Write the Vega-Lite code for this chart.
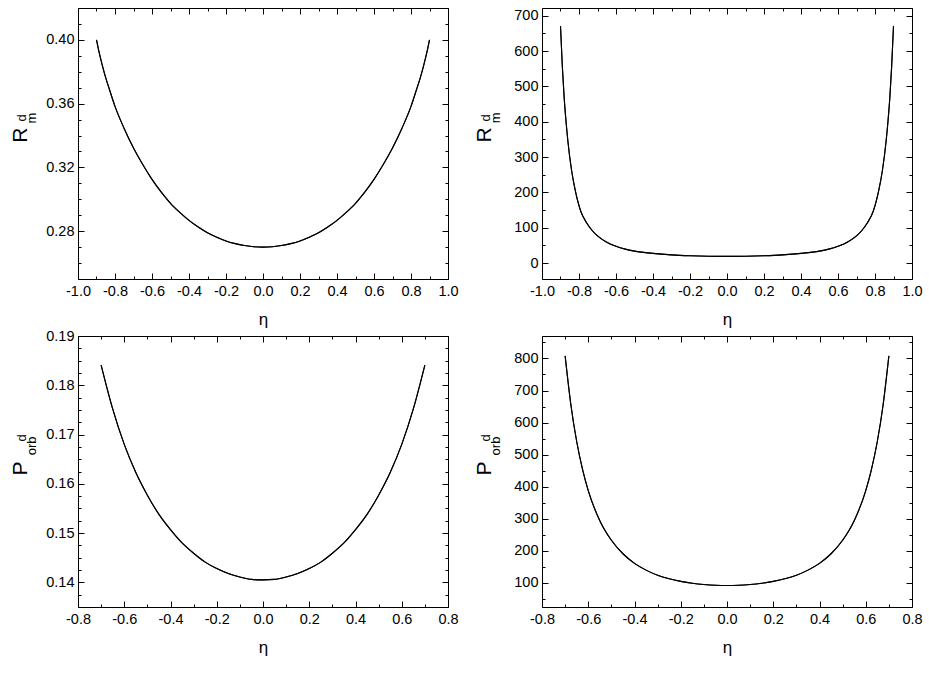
{
  "$schema": "https://vega.github.io/schema/vega-lite/v6.json",
  "padding": {"left": 9, "top": 0, "right": 5, "bottom": 5},
  "background": "white",
  "config": {
    "view": {"stroke": null},
    "font": "Liberation Sans",
    "axis": {
      "labelFont": "Liberation Sans",
      "labelFontSize": 14.5,
      "labelColor": "black",
      "labelFlush": false,
      "labelOverlap": false,
      "domainColor": "black",
      "domainWidth": 1,
      "tickColor": "black",
      "tickWidth": 1,
      "grid": false,
      "titleFont": "Liberation Sans",
      "titleFontSize": 17,
      "titleFontWeight": "normal",
      "titleColor": "black"
    }
  },
  "datasets": {
    "p1": [
      {"eta": -0.9, "v": 0.4000}, {"eta": -0.89, "v": 0.3944}, {"eta": -0.87, "v": 0.3847}, {"eta": -0.85, "v": 0.3762},
      {"eta": -0.83, "v": 0.3689}, {"eta": -0.8, "v": 0.3583}, {"eta": -0.75, "v": 0.3443}, {"eta": -0.7, "v": 0.3322},
      {"eta": -0.65, "v": 0.3218}, {"eta": -0.6, "v": 0.3125}, {"eta": -0.55, "v": 0.3045}, {"eta": -0.5, "v": 0.2975},
      {"eta": -0.45, "v": 0.2918}, {"eta": -0.4, "v": 0.2868}, {"eta": -0.35, "v": 0.2826}, {"eta": -0.3, "v": 0.2790},
      {"eta": -0.25, "v": 0.2762}, {"eta": -0.2, "v": 0.2739}, {"eta": -0.15, "v": 0.2722}, {"eta": -0.1, "v": 0.2710},
      {"eta": -0.05, "v": 0.2702}, {"eta": 0.0, "v": 0.2700},
      {"eta": 0.05, "v": 0.2702}, {"eta": 0.1, "v": 0.2710}, {"eta": 0.15, "v": 0.2722}, {"eta": 0.2, "v": 0.2739},
      {"eta": 0.25, "v": 0.2762}, {"eta": 0.3, "v": 0.2790}, {"eta": 0.35, "v": 0.2826}, {"eta": 0.4, "v": 0.2868},
      {"eta": 0.45, "v": 0.2918}, {"eta": 0.5, "v": 0.2975}, {"eta": 0.55, "v": 0.3045}, {"eta": 0.6, "v": 0.3125},
      {"eta": 0.65, "v": 0.3218}, {"eta": 0.7, "v": 0.3322}, {"eta": 0.75, "v": 0.3443}, {"eta": 0.8, "v": 0.3583},
      {"eta": 0.83, "v": 0.3689}, {"eta": 0.85, "v": 0.3762}, {"eta": 0.87, "v": 0.3847}, {"eta": 0.89, "v": 0.3944},
      {"eta": 0.9, "v": 0.4000}
    ],
    "p2": [
      {"eta": -0.9, "v": 671}, {"eta": -0.89, "v": 556}, {"eta": -0.88, "v": 467}, {"eta": -0.87, "v": 400},
      {"eta": -0.86, "v": 345}, {"eta": -0.84, "v": 262}, {"eta": -0.82, "v": 205}, {"eta": -0.79, "v": 146},
      {"eta": -0.76, "v": 115}, {"eta": -0.73, "v": 93}, {"eta": -0.7, "v": 77}, {"eta": -0.65, "v": 59},
      {"eta": -0.6, "v": 47.5}, {"eta": -0.55, "v": 39.5}, {"eta": -0.5, "v": 34}, {"eta": -0.4, "v": 27.5},
      {"eta": -0.3, "v": 23.3}, {"eta": -0.2, "v": 20.8}, {"eta": -0.1, "v": 19.4}, {"eta": 0.0, "v": 19},
      {"eta": 0.1, "v": 19.4}, {"eta": 0.2, "v": 20.8}, {"eta": 0.3, "v": 23.3}, {"eta": 0.4, "v": 27.5},
      {"eta": 0.5, "v": 34}, {"eta": 0.55, "v": 39.5}, {"eta": 0.6, "v": 47.5}, {"eta": 0.65, "v": 59},
      {"eta": 0.7, "v": 77}, {"eta": 0.73, "v": 93}, {"eta": 0.76, "v": 115}, {"eta": 0.79, "v": 146},
      {"eta": 0.82, "v": 205}, {"eta": 0.84, "v": 262}, {"eta": 0.86, "v": 345}, {"eta": 0.87, "v": 400},
      {"eta": 0.88, "v": 467}, {"eta": 0.89, "v": 556}, {"eta": 0.9, "v": 671}
    ],
    "p3": [
      {"eta": -0.7, "v": 0.1841}, {"eta": -0.65, "v": 0.1752}, {"eta": -0.6, "v": 0.1680}, {"eta": -0.55, "v": 0.1623},
      {"eta": -0.5, "v": 0.1577}, {"eta": -0.45, "v": 0.1538}, {"eta": -0.4, "v": 0.1507}, {"eta": -0.35, "v": 0.1480},
      {"eta": -0.3, "v": 0.1459}, {"eta": -0.25, "v": 0.1441}, {"eta": -0.2, "v": 0.1428}, {"eta": -0.15, "v": 0.1418},
      {"eta": -0.1, "v": 0.1411}, {"eta": -0.05, "v": 0.1406}, {"eta": 0.0, "v": 0.1405},
      {"eta": 0.05, "v": 0.1406}, {"eta": 0.1, "v": 0.1411}, {"eta": 0.15, "v": 0.1418}, {"eta": 0.2, "v": 0.1428},
      {"eta": 0.25, "v": 0.1441}, {"eta": 0.3, "v": 0.1459}, {"eta": 0.35, "v": 0.1480}, {"eta": 0.4, "v": 0.1507},
      {"eta": 0.45, "v": 0.1538}, {"eta": 0.5, "v": 0.1577}, {"eta": 0.55, "v": 0.1623}, {"eta": 0.6, "v": 0.1680},
      {"eta": 0.65, "v": 0.1752}, {"eta": 0.7, "v": 0.1841}
    ],
    "p4": [
      {"eta": -0.7, "v": 808}, {"eta": -0.675, "v": 655}, {"eta": -0.65, "v": 541}, {"eta": -0.625, "v": 455},
      {"eta": -0.6, "v": 388}, {"eta": -0.55, "v": 294}, {"eta": -0.5, "v": 233}, {"eta": -0.45, "v": 191},
      {"eta": -0.4, "v": 161}, {"eta": -0.35, "v": 140}, {"eta": -0.3, "v": 124}, {"eta": -0.25, "v": 113},
      {"eta": -0.2, "v": 105}, {"eta": -0.15, "v": 99}, {"eta": -0.1, "v": 95}, {"eta": -0.05, "v": 92.7},
      {"eta": 0.0, "v": 92},
      {"eta": 0.05, "v": 92.7}, {"eta": 0.1, "v": 95}, {"eta": 0.15, "v": 99}, {"eta": 0.2, "v": 105},
      {"eta": 0.25, "v": 113}, {"eta": 0.3, "v": 124}, {"eta": 0.35, "v": 140}, {"eta": 0.4, "v": 161},
      {"eta": 0.45, "v": 191}, {"eta": 0.5, "v": 233}, {"eta": 0.55, "v": 294}, {"eta": 0.6, "v": 388},
      {"eta": 0.625, "v": 455}, {"eta": 0.65, "v": 541}, {"eta": 0.675, "v": 655}, {"eta": 0.7, "v": 808}
    ]
  },
  "columns": 2,
  "bounds": "flush",
  "spacing": {"row": 57, "column": 94},
  "concat": [
    {
      "width": 370, "height": 271,
      "layer": [
        {
          "data": {"name": "p1"},
          "mark": {"type": "line", "color": "black", "strokeWidth": 1.1, "interpolate": "monotone"},
          "encoding": {
            "x": {"field": "eta", "type": "quantitative", "scale": {"domain": [-1, 1], "nice": false, "zero": false},
              "axis": {"orient": "bottom", "title": "η", "titlePadding": 11, "values": [-1,-0.9,-0.8,-0.7,-0.6,-0.5,-0.4,-0.3,-0.2,-0.1,0,0.1,0.2,0.3,0.4,0.5,0.6,0.7,0.8,0.9,1],
                "tickSize": {"expr": "abs(datum.value*5-round(datum.value*5))<0.01 ? -6 : -3"}, "labelPadding": 11,
                "labelExpr": "abs(datum.value*5-round(datum.value*5))<0.01 ? replace(format(datum.value,'.1f'),'−','-') : ''"}},
            "y": {"field": "v", "type": "quantitative", "scale": {"domain": [0.25, 0.42], "nice": false, "zero": false},
              "axis": {"orient": "left", "title": null, "values": [0.25,0.26,0.27,0.28,0.29,0.30,0.31,0.32,0.33,0.34,0.35,0.36,0.37,0.38,0.39,0.40,0.41,0.42],
                "tickSize": {"expr": "abs(datum.value*25-round(datum.value*25))<0.01 ? -6 : -3"}, "labelPadding": 10,
                "labelExpr": "abs(datum.value*25-round(datum.value*25))<0.01 ? format(datum.value,'.2f') : ''"}}
          }
        },
        {
          "data": {"name": "p1"},
          "mark": {"type": "line", "color": "black", "strokeWidth": 1.1, "interpolate": "monotone"},
          "encoding": {
            "x": {"field": "eta", "type": "quantitative", "scale": {"domain": [-1, 1], "nice": false, "zero": false},
              "axis": {"orient": "top", "title": null, "labels": false, "values": [-1,-0.9,-0.8,-0.7,-0.6,-0.5,-0.4,-0.3,-0.2,-0.1,0,0.1,0.2,0.3,0.4,0.5,0.6,0.7,0.8,0.9,1],
                "tickSize": {"expr": "abs(datum.value*5-round(datum.value*5))<0.01 ? -6 : -3"}}},
            "y": {"field": "v", "type": "quantitative", "scale": {"domain": [0.25, 0.42], "nice": false, "zero": false},
              "axis": {"orient": "right", "title": null, "labels": false, "values": [0.25,0.26,0.27,0.28,0.29,0.30,0.31,0.32,0.33,0.34,0.35,0.36,0.37,0.38,0.39,0.40,0.41,0.42],
                "tickSize": {"expr": "abs(datum.value*25-round(datum.value*25))<0.01 ? -6 : -3"}}}
          }
        },
        {
          "data": {"values": [{}]},
          "mark": {"type": "text", "text": "R", "font": "Liberation Sans", "fontSize": 21, "angle": 270, "align": "center", "baseline": "middle", "color": "black"},
          "encoding": {
            "x": {"datum": -1.308, "type": "quantitative", "scale": {"domain": [-1, 1], "nice": false, "zero": false}, "axis": null},
            "y": {"datum": 0.3403, "type": "quantitative", "scale": {"domain": [0.25, 0.42], "nice": false, "zero": false}, "axis": null}
          }
        },
        {
          "data": {"values": [{}]},
          "mark": {"type": "text", "text": "m", "font": "Liberation Sans", "fontSize": 13, "angle": 270, "align": "center", "baseline": "middle", "color": "black"},
          "encoding": {
            "x": {"datum": -1.249, "type": "quantitative", "scale": {"domain": [-1, 1], "nice": false, "zero": false}, "axis": null},
            "y": {"datum": 0.351, "type": "quantitative", "scale": {"domain": [0.25, 0.42], "nice": false, "zero": false}, "axis": null}
          }
        },
        {
          "data": {"values": [{}]},
          "mark": {"type": "text", "text": "d", "font": "Liberation Sans", "fontSize": 13, "angle": 270, "align": "center", "baseline": "middle", "color": "black"},
          "encoding": {
            "x": {"datum": -1.303, "type": "quantitative", "scale": {"domain": [-1, 1], "nice": false, "zero": false}, "axis": null},
            "y": {"datum": 0.351, "type": "quantitative", "scale": {"domain": [0.25, 0.42], "nice": false, "zero": false}, "axis": null}
          }
        }
      ],
      "resolve": {"axis": {"x": "independent", "y": "independent"}}
    },
    {
      "width": 370, "height": 271,
      "layer": [
        {
          "data": {"name": "p2"},
          "mark": {"type": "line", "color": "black", "strokeWidth": 1.1, "interpolate": "monotone"},
          "encoding": {
            "x": {"field": "eta", "type": "quantitative", "scale": {"domain": [-1, 1], "nice": false, "zero": false},
              "axis": {"orient": "bottom", "title": "η", "titlePadding": 11, "values": [-1,-0.9,-0.8,-0.7,-0.6,-0.5,-0.4,-0.3,-0.2,-0.1,0,0.1,0.2,0.3,0.4,0.5,0.6,0.7,0.8,0.9,1],
                "tickSize": {"expr": "abs(datum.value*5-round(datum.value*5))<0.01 ? -6 : -3"}, "labelPadding": 11,
                "labelExpr": "abs(datum.value*5-round(datum.value*5))<0.01 ? replace(format(datum.value,'.1f'),'−','-') : ''"}},
            "y": {"field": "v", "type": "quantitative", "scale": {"domain": [-45, 722], "nice": false, "zero": false},
              "axis": {"orient": "left", "title": null, "values": [0,50,100,150,200,250,300,350,400,450,500,550,600,650,700],
                "tickSize": {"expr": "datum.value % 100 == 0 ? -6 : -3"}, "labelPadding": 10,
                "labelExpr": "datum.value % 100 == 0 ? format(datum.value,'d') : ''"}}
          }
        },
        {
          "data": {"name": "p2"},
          "mark": {"type": "line", "color": "black", "strokeWidth": 1.1, "interpolate": "monotone"},
          "encoding": {
            "x": {"field": "eta", "type": "quantitative", "scale": {"domain": [-1, 1], "nice": false, "zero": false},
              "axis": {"orient": "top", "title": null, "labels": false, "values": [-1,-0.9,-0.8,-0.7,-0.6,-0.5,-0.4,-0.3,-0.2,-0.1,0,0.1,0.2,0.3,0.4,0.5,0.6,0.7,0.8,0.9,1],
                "tickSize": {"expr": "abs(datum.value*5-round(datum.value*5))<0.01 ? -6 : -3"}}},
            "y": {"field": "v", "type": "quantitative", "scale": {"domain": [-45, 722], "nice": false, "zero": false},
              "axis": {"orient": "right", "title": null, "labels": false, "values": [0,50,100,150,200,250,300,350,400,450,500,550,600,650,700],
                "tickSize": {"expr": "datum.value % 100 == 0 ? -6 : -3"}}}
          }
        },
        {
          "data": {"values": [{}]},
          "mark": {"type": "text", "text": "R", "font": "Liberation Sans", "fontSize": 21, "angle": 270, "align": "center", "baseline": "middle", "color": "black"},
          "encoding": {
            "x": {"datum": -1.308, "type": "quantitative", "scale": {"domain": [-1, 1], "nice": false, "zero": false}, "axis": null},
            "y": {"datum": 362.5, "type": "quantitative", "scale": {"domain": [-45, 722], "nice": false, "zero": false}, "axis": null}
          }
        },
        {
          "data": {"values": [{}]},
          "mark": {"type": "text", "text": "m", "font": "Liberation Sans", "fontSize": 13, "angle": 270, "align": "center", "baseline": "middle", "color": "black"},
          "encoding": {
            "x": {"datum": -1.249, "type": "quantitative", "scale": {"domain": [-1, 1], "nice": false, "zero": false}, "axis": null},
            "y": {"datum": 411, "type": "quantitative", "scale": {"domain": [-45, 722], "nice": false, "zero": false}, "axis": null}
          }
        },
        {
          "data": {"values": [{}]},
          "mark": {"type": "text", "text": "d", "font": "Liberation Sans", "fontSize": 13, "angle": 270, "align": "center", "baseline": "middle", "color": "black"},
          "encoding": {
            "x": {"datum": -1.303, "type": "quantitative", "scale": {"domain": [-1, 1], "nice": false, "zero": false}, "axis": null},
            "y": {"datum": 411, "type": "quantitative", "scale": {"domain": [-45, 722], "nice": false, "zero": false}, "axis": null}
          }
        }
      ],
      "resolve": {"axis": {"x": "independent", "y": "independent"}}
    },
    {
      "width": 370, "height": 271,
      "layer": [
        {
          "data": {"name": "p3"},
          "mark": {"type": "line", "color": "black", "strokeWidth": 1.1, "interpolate": "monotone"},
          "encoding": {
            "x": {"field": "eta", "type": "quantitative", "scale": {"domain": [-0.8, 0.8], "nice": false, "zero": false},
              "axis": {"orient": "bottom", "title": "η", "titlePadding": 11, "values": [-0.8,-0.7,-0.6,-0.5,-0.4,-0.3,-0.2,-0.1,0,0.1,0.2,0.3,0.4,0.5,0.6,0.7,0.8],
                "tickSize": {"expr": "abs(datum.value*5-round(datum.value*5))<0.01 ? -6 : -3"}, "labelPadding": 11,
                "labelExpr": "abs(datum.value*5-round(datum.value*5))<0.01 ? replace(format(datum.value,'.1f'),'−','-') : ''"}},
            "y": {"field": "v", "type": "quantitative", "scale": {"domain": [0.135, 0.19], "nice": false, "zero": false},
              "axis": {"orient": "left", "title": null, "values": [0.135,0.1375,0.14,0.1425,0.145,0.1475,0.15,0.1525,0.155,0.1575,0.16,0.1625,0.165,0.1675,0.17,0.1725,0.175,0.1775,0.18,0.1825,0.185,0.1875,0.19],
                "tickSize": {"expr": "abs(datum.value*100-round(datum.value*100))<0.01 ? -6 : -3"}, "labelPadding": 10,
                "labelExpr": "abs(datum.value*100-round(datum.value*100))<0.01 ? format(datum.value,'.2f') : ''"}}
          }
        },
        {
          "data": {"name": "p3"},
          "mark": {"type": "line", "color": "black", "strokeWidth": 1.1, "interpolate": "monotone"},
          "encoding": {
            "x": {"field": "eta", "type": "quantitative", "scale": {"domain": [-0.8, 0.8], "nice": false, "zero": false},
              "axis": {"orient": "top", "title": null, "labels": false, "values": [-0.8,-0.7,-0.6,-0.5,-0.4,-0.3,-0.2,-0.1,0,0.1,0.2,0.3,0.4,0.5,0.6,0.7,0.8],
                "tickSize": {"expr": "abs(datum.value*5-round(datum.value*5))<0.01 ? -6 : -3"}}},
            "y": {"field": "v", "type": "quantitative", "scale": {"domain": [0.135, 0.19], "nice": false, "zero": false},
              "axis": {"orient": "right", "title": null, "labels": false, "values": [0.135,0.1375,0.14,0.1425,0.145,0.1475,0.15,0.1525,0.155,0.1575,0.16,0.1625,0.165,0.1675,0.17,0.1725,0.175,0.1775,0.18,0.1825,0.185,0.1875,0.19],
                "tickSize": {"expr": "abs(datum.value*100-round(datum.value*100))<0.01 ? -6 : -3"}}}
          }
        },
        {
          "data": {"values": [{}]},
          "mark": {"type": "text", "text": "P", "font": "Liberation Sans", "fontSize": 21, "angle": 270, "align": "center", "baseline": "middle", "color": "black"},
          "encoding": {
            "x": {"datum": -1.0486, "type": "quantitative", "scale": {"domain": [-0.8, 0.8], "nice": false, "zero": false}, "axis": null},
            "y": {"datum": 0.1631, "type": "quantitative", "scale": {"domain": [0.135, 0.19], "nice": false, "zero": false}, "axis": null}
          }
        },
        {
          "data": {"values": [{}]},
          "mark": {"type": "text", "text": "orb", "font": "Liberation Sans", "fontSize": 13, "angle": 270, "align": "center", "baseline": "middle", "color": "black"},
          "encoding": {
            "x": {"datum": -0.999, "type": "quantitative", "scale": {"domain": [-0.8, 0.8], "nice": false, "zero": false}, "axis": null},
            "y": {"datum": 0.1677, "type": "quantitative", "scale": {"domain": [0.135, 0.19], "nice": false, "zero": false}, "axis": null}
          }
        },
        {
          "data": {"values": [{}]},
          "mark": {"type": "text", "text": "d", "font": "Liberation Sans", "fontSize": 13, "angle": 270, "align": "center", "baseline": "middle", "color": "black"},
          "encoding": {
            "x": {"datum": -1.042, "type": "quantitative", "scale": {"domain": [-0.8, 0.8], "nice": false, "zero": false}, "axis": null},
            "y": {"datum": 0.1693, "type": "quantitative", "scale": {"domain": [0.135, 0.19], "nice": false, "zero": false}, "axis": null}
          }
        }
      ],
      "resolve": {"axis": {"x": "independent", "y": "independent"}}
    },
    {
      "width": 370, "height": 271,
      "layer": [
        {
          "data": {"name": "p4"},
          "mark": {"type": "line", "color": "black", "strokeWidth": 1.1, "interpolate": "monotone"},
          "encoding": {
            "x": {"field": "eta", "type": "quantitative", "scale": {"domain": [-0.8, 0.8], "nice": false, "zero": false},
              "axis": {"orient": "bottom", "title": "η", "titlePadding": 11, "values": [-0.8,-0.7,-0.6,-0.5,-0.4,-0.3,-0.2,-0.1,0,0.1,0.2,0.3,0.4,0.5,0.6,0.7,0.8],
                "tickSize": {"expr": "abs(datum.value*5-round(datum.value*5))<0.01 ? -6 : -3"}, "labelPadding": 11,
                "labelExpr": "abs(datum.value*5-round(datum.value*5))<0.01 ? replace(format(datum.value,'.1f'),'−','-') : ''"}},
            "y": {"field": "v", "type": "quantitative", "scale": {"domain": [25, 870], "nice": false, "zero": false},
              "axis": {"orient": "left", "title": null, "values": [50,100,150,200,250,300,350,400,450,500,550,600,650,700,750,800,850],
                "tickSize": {"expr": "datum.value % 100 == 0 ? -6 : -3"}, "labelPadding": 10,
                "labelExpr": "datum.value % 100 == 0 ? format(datum.value,'d') : ''"}}
          }
        },
        {
          "data": {"name": "p4"},
          "mark": {"type": "line", "color": "black", "strokeWidth": 1.1, "interpolate": "monotone"},
          "encoding": {
            "x": {"field": "eta", "type": "quantitative", "scale": {"domain": [-0.8, 0.8], "nice": false, "zero": false},
              "axis": {"orient": "top", "title": null, "labels": false, "values": [-0.8,-0.7,-0.6,-0.5,-0.4,-0.3,-0.2,-0.1,0,0.1,0.2,0.3,0.4,0.5,0.6,0.7,0.8],
                "tickSize": {"expr": "abs(datum.value*5-round(datum.value*5))<0.01 ? -6 : -3"}}},
            "y": {"field": "v", "type": "quantitative", "scale": {"domain": [25, 870], "nice": false, "zero": false},
              "axis": {"orient": "right", "title": null, "labels": false, "values": [50,100,150,200,250,300,350,400,450,500,550,600,650,700,750,800,850],
                "tickSize": {"expr": "datum.value % 100 == 0 ? -6 : -3"}}}
          }
        },
        {
          "data": {"values": [{}]},
          "mark": {"type": "text", "text": "P", "font": "Liberation Sans", "fontSize": 21, "angle": 270, "align": "center", "baseline": "middle", "color": "black"},
          "encoding": {
            "x": {"datum": -1.0486, "type": "quantitative", "scale": {"domain": [-0.8, 0.8], "nice": false, "zero": false}, "axis": null},
            "y": {"datum": 457, "type": "quantitative", "scale": {"domain": [25, 870], "nice": false, "zero": false}, "axis": null}
          }
        },
        {
          "data": {"values": [{}]},
          "mark": {"type": "text", "text": "orb", "font": "Liberation Sans", "fontSize": 13, "angle": 270, "align": "center", "baseline": "middle", "color": "black"},
          "encoding": {
            "x": {"datum": -0.999, "type": "quantitative", "scale": {"domain": [-0.8, 0.8], "nice": false, "zero": false}, "axis": null},
            "y": {"datum": 527, "type": "quantitative", "scale": {"domain": [25, 870], "nice": false, "zero": false}, "axis": null}
          }
        },
        {
          "data": {"values": [{}]},
          "mark": {"type": "text", "text": "d", "font": "Liberation Sans", "fontSize": 13, "angle": 270, "align": "center", "baseline": "middle", "color": "black"},
          "encoding": {
            "x": {"datum": -1.042, "type": "quantitative", "scale": {"domain": [-0.8, 0.8], "nice": false, "zero": false}, "axis": null},
            "y": {"datum": 552, "type": "quantitative", "scale": {"domain": [25, 870], "nice": false, "zero": false}, "axis": null}
          }
        }
      ],
      "resolve": {"axis": {"x": "independent", "y": "independent"}}
    }
  ]
}
